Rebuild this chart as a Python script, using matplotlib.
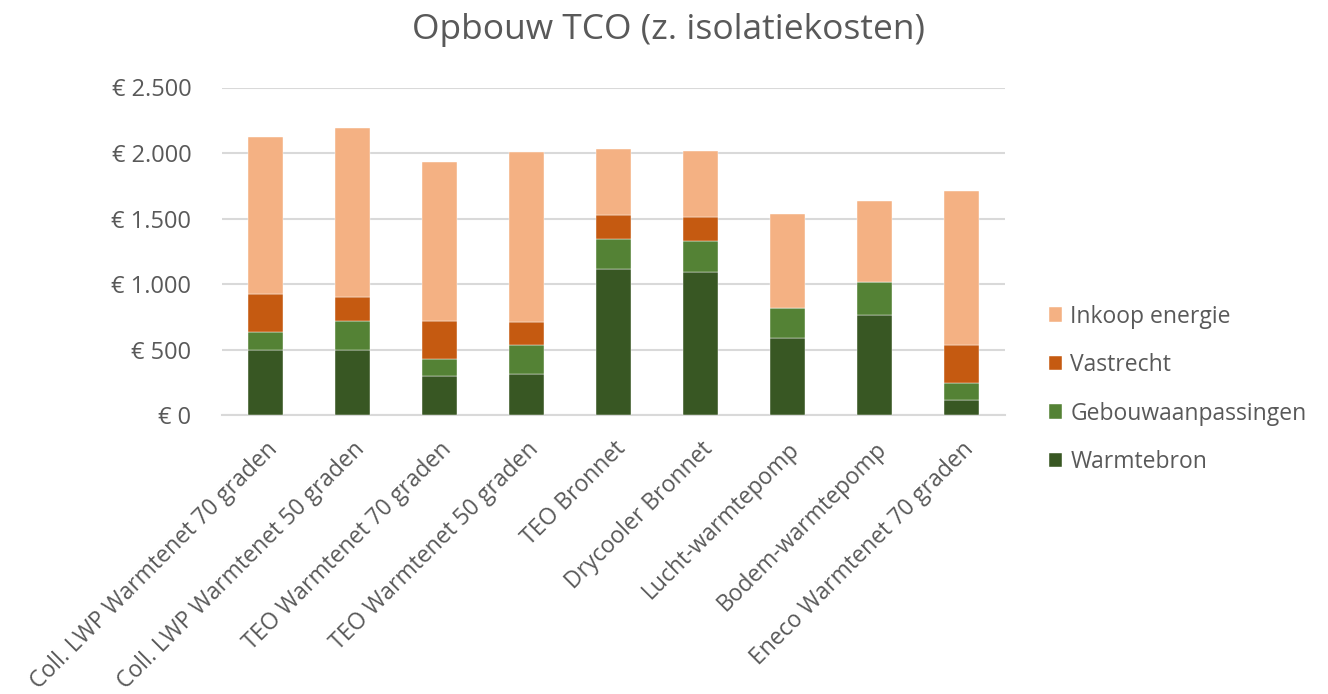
import matplotlib
matplotlib.use("Agg")
import matplotlib.pyplot as plt
import numpy as np
from matplotlib.ticker import FuncFormatter

categories = ["Coll. LWP Warmtenet 70 graden", "Coll. LWP Warmtenet 50 graden",
              "TEO Warmtenet 70 graden", "TEO Warmtenet 50 graden", "TEO Bronnet",
              "Drycooler Bronnet", "Lucht-warmtepomp", "Bodem-warmtepomp",
              "Eneco Warmtenet 70 graden"]
warmtebron = [500, 494, 300, 311, 1115, 1094, 590, 763, 117]
gebouwaanpassingen = [134, 224, 127, 221, 226, 237, 224, 255, 127]
vastrecht = [290, 183, 290, 178, 183, 183, 0, 0, 290]
inkoop_energie = [1200, 1290, 1213, 1298, 504, 504, 718, 613, 1174]
series_names = ["Warmtebron", "Gebouwaanpassingen", "Vastrecht", "Inkoop energie"]
colors = ["#385723", "#548235", "#C55A11", "#F4B183"]

plt.rcParams['font.family'] = ['Open Sans', 'DejaVu Sans']
txt = "#595959"

fig = plt.figure(figsize=(13.28, 6.94), dpi=100)
ax = fig.add_axes([222/1328, 1-415/694, (1005-222)/1328, (415-87.5)/694])

x = np.arange(len(categories))
bottom = np.zeros(len(categories))
handles = []
for name, vals, c in zip(series_names, [warmtebron, gebouwaanpassingen, vastrecht, inkoop_energie], colors):
    vals = np.array(vals, dtype=float)
    h = ax.bar(x, vals, 0.40, bottom=bottom, color=c, label=name, zorder=3,
               edgecolor="white", linewidth=0.3)
    bottom += vals
    handles.append(h)

ax.set_xlim(-0.5, len(categories) - 0.5)
ax.set_ylim(0, 2500)
ax.set_yticks(np.arange(0, 2501, 500))
ax.yaxis.set_major_formatter(FuncFormatter(lambda v, p: "€ " + f"{int(v):,}".replace(",", ".")))
ax.grid(axis="y", color="#D9D9D9", linewidth=1.5, zorder=0)
for s in ["top", "right", "left"]:
    ax.spines[s].set_visible(False)
ax.spines["bottom"].set_color("#D9D9D9")
ax.spines["bottom"].set_linewidth(1.5)
ax.tick_params(axis="both", length=0, colors=txt)
ax.tick_params(axis="y", pad=22, labelsize=17)
ax.set_xticks(x)
ax.set_xticklabels(categories, rotation=45, ha="right", va="top", rotation_mode="anchor")
ax.tick_params(axis="x", pad=16, labelsize=16.5)

fig.text(668/1328, 1-30/694, "Opbouw TCO (z. isolatiekosten)", ha="center", va="center",
         fontsize=25.5, color=txt)

leg = fig.legend(handles[::-1], series_names[::-1], loc="upper left",
                 bbox_to_anchor=(1028/1328, 1-284/694), frameon=False,
                 fontsize=16.5, labelcolor=txt, handlelength=0.6, handleheight=0.6,
                 handletextpad=0.35, labelspacing=1.07)

fig.savefig("out.png", dpi=100)
